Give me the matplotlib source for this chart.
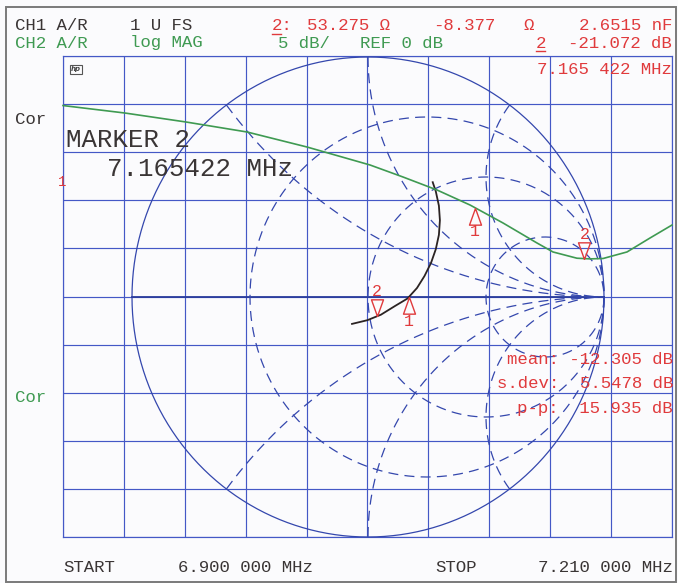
import numpy as np
import matplotlib
matplotlib.use("Agg")
import matplotlib.pyplot as plt
from matplotlib.patches import Rectangle
from matplotlib.lines import Line2D

# ---- sweep / display settings -------------------------------------------
START_MHZ = 6.900
STOP_MHZ = 7.210
REF_DB = 0.0
SCALE_DB = 5.0
N_DIV = 10
Z0 = 50.0

# ---- CH2: log magnitude trace -------------------------------------------
freq_mhz = [6.9000, 6.9316, 6.9626, 6.9937, 7.0242, 7.0563, 7.0731, 7.0904,
            7.1072, 7.1240, 7.1413, 7.1494, 7.1616, 7.1683, 7.1749, 7.1871,
            7.1988, 7.2100]
mag_db = [-5.15, -5.93, -6.86, -7.90, -9.46, -11.33, -12.58, -13.93,
          -15.49, -17.36, -19.44, -20.37, -21.02, -21.09, -21.05, -20.37,
          -18.92, -17.57]

# ---- CH1: reflection coefficient trace (Smith chart) ---------------------
gamma_re = [-0.0678, -0.0030, 0.0547, 0.1144, 0.1674, 0.2076, 0.2394,
            0.2669, 0.2873, 0.3004, 0.3047, 0.3004, 0.2873, 0.2742]
gamma_im = [-0.1121, -0.0967, -0.0738, -0.0375, -0.0063, 0.0375, 0.0875,
            0.1417, 0.1992, 0.2588, 0.3196, 0.3804, 0.4400, 0.4783]

# ---- markers -------------------------------------------------------------
marker_names = ["1", "2"]
marker_freq_mhz = [7.1097, 7.165422]
marker_r_ohm = [71.1, 53.275]
marker_x_ohm = [0.0, -8.377]
marker2_mag_db = -21.072

# ---- Smith chart graticule ----------------------------------------------
smith_r = [1 / 3, 1.0, 3.0]
smith_x = [0.5, 1.0, 2.0, -0.5, -1.0, -2.0]

# ---- colours --------------------------------------------------------------
GRID = "#4458c6"
SMITH = "#3447ad"
SMITH_DARK = "#2a3c9c"
GREEN = "#3f9a52"
RED = "#e03a3c"
DARK = "#3a3535"
FONT = ["Liberation Mono", "DejaVu Sans Mono", "DejaVu Sans"]

W, H = 678, 583
fig = plt.figure(figsize=(W / 100, H / 100), dpi=100)
fig.patch.set_facecolor("#fbfbfd")


def fx(px):
    return px / W


def fy(py):
    return 1 - py / H


# outer frame of the printout
fig.add_artist(Rectangle((fx(6), fy(582)), fx(676) - fx(6), fy(7) - fy(582),
                         transform=fig.transFigure, fill=False,
                         edgecolor="#7a7a7a", lw=1.4, zorder=0))

# ---- rectangular graticule -----------------------------------------------
GL, GR, GT, GB = 63, 672, 56, 537
rect = [fx(GL), fy(GB), (GR - GL) / W, (GB - GT) / H]
ax = fig.add_axes(rect, zorder=1)
ax.set_xlim(START_MHZ, STOP_MHZ)
ax.set_ylim(REF_DB - N_DIV * SCALE_DB, REF_DB)
ax.set_xticks(np.linspace(START_MHZ, STOP_MHZ, N_DIV + 1))
ax.set_yticks(np.linspace(REF_DB - N_DIV * SCALE_DB, REF_DB, N_DIV + 1))
ax.grid(True, color=GRID, lw=0.85)
ax.tick_params(length=0, labelbottom=False, labelleft=False)
for s in ax.spines.values():
    s.set_color(GRID)
    s.set_linewidth(0.85)
ax.set_facecolor("none")

# ---- Smith chart ---------------------------------------------------------
CX, CY, RX, RY = 368, 297, 236, 240
sx = fig.add_axes([fx(CX - RX), fy(CY + RY), 2 * RX / W, 2 * RY / H], zorder=2)
sx.set_xlim(-1, 1)
sx.set_ylim(-1, 1)
sx.axis("off")

dash = (0, (8, 5))
th = np.linspace(0, 2 * np.pi, 721)
sx.plot(np.cos(th), np.sin(th), color=SMITH, lw=0.9, clip_on=False)
sx.plot([-1, 1], [0, 0], color=SMITH_DARK, lw=1.3, clip_on=False)

for r in smith_r:
    xs = np.tan(np.linspace(-np.pi / 2 + 1e-3, np.pi / 2 - 1e-3, 900))
    g = (r + 1j * xs - 1) / (r + 1j * xs + 1)
    sx.plot(g.real, g.imag, color=SMITH, lw=0.9, ls=dash, clip_on=False)

for x in smith_x:
    s = np.linspace(0, 0.999, 700)
    rs = s / (1 - s)
    g = (rs + 1j * x - 1) / (rs + 1j * x + 1)
    sx.plot(g.real, g.imag, color=SMITH, lw=0.9, ls=dash, clip_on=False)

sx.plot(gamma_re, gamma_im, color="#2b2323", lw=1.3, clip_on=False,
        solid_joinstyle="round")

# marker symbols: hanging triangle (inactive) and standing triangle (active)
TRI_UP = [(0, 0), (-0.36, -1), (0.36, -1), (0, 0)]
TRI_DN = [(0, 0), (-0.36, 1), (0.36, 1), (0, 0)]


def draw_marker(axis, x, y, name, active):
    axis.plot([x], [y], marker=TRI_DN if active else TRI_UP, ms=24,
              mfc="none", mec=RED, mew=1.0, ls="none", clip_on=False,
              zorder=6)
    axis.annotate(name, (x, y), xytext=(0, 24 if active else -24),
                  textcoords="offset pixels", ha="center", va="center",
                  color=RED, fontsize=12, family=FONT, zorder=6)


z_mk = (np.array(marker_r_ohm) + 1j * np.array(marker_x_ohm)) / Z0
g_mk = (z_mk - 1) / (z_mk + 1)
for i, name in enumerate(marker_names):
    draw_marker(sx, g_mk[i].real, g_mk[i].imag, name, name == "2")

# ---- log magnitude trace on top -----------------------------------------
gx = fig.add_axes(rect, zorder=3)
gx.set_xlim(START_MHZ, STOP_MHZ)
gx.set_ylim(REF_DB - N_DIV * SCALE_DB, REF_DB)
gx.axis("off")
gx.plot(freq_mhz, mag_db, color=GREEN, lw=1.2, clip_on=False)

mk_db = [float(np.interp(marker_freq_mhz[0], freq_mhz, mag_db)), marker2_mag_db]
for i, name in enumerate(marker_names):
    draw_marker(gx, marker_freq_mhz[i], mk_db[i], name, name == "2")

# ---- annotation text -----------------------------------------------------


def label(px, py, s, color=DARK, size=12.5, ha="left"):
    fig.text(fx(px), fy(py), s, color=color, fontsize=size, ha=ha,
             va="center", family=FONT, zorder=8)


def underline(px0, px1, py, color):
    fig.add_artist(Line2D([fx(px0), fx(px1)], [fy(py), fy(py)],
                          transform=fig.transFigure, color=color, lw=1.0,
                          zorder=8))


label(15, 26, "CH1 A/R", DARK)
label(130, 26, "1 U FS", DARK)
label(272, 26, "2:", RED)
underline(272, 281, 34, RED)
label(307, 26, "53.275 Ω", RED)
label(433, 26, "-8.377", RED)
label(523, 26, "Ω", RED)
label(672, 26, "2.6515 nF", RED, ha="right")

label(15, 43, "CH2 A/R", GREEN)
label(130, 43, "log MAG", GREEN)
label(278, 43, "5 dB/", GREEN)
label(360, 43, "REF 0 dB", GREEN)
label(536, 43, "2", RED)
underline(536, 545, 51, RED)
label(672, 43, "-21.072 dB", RED, ha="right")

label(672, 70, "7.165 422 MHz", RED, ha="right")

fig.text(fx(76), fy(69.5), "hp", fontsize=5, ha="center", va="center",
         style="italic", weight="bold", color="#444444", zorder=8,
         bbox=dict(boxstyle="square,pad=0.15", fc="none", ec="#555555", lw=0.8))

label(15, 119, "Cor", DARK)
label(58, 182, "1", RED, size=10)
label(15, 397, "Cor", GREEN)

label(66, 140, "MARKER 2", DARK, size=18.5)
label(107, 169, "7.165422 MHz", DARK, size=18.5)

label(673, 360, "mean: -12.305 dB", RED, ha="right")
label(673, 383, "s.dev:  5.5478 dB", RED, ha="right")
label(673, 408, "p-p:  15.935 dB", RED, ha="right")

label(63, 568, "START", DARK)
label(313, 568, "6.900 000 MHz", DARK, ha="right")
label(435, 568, "STOP", DARK)
label(673, 568, "7.210 000 MHz", DARK, ha="right")

fig.savefig("out.png", dpi=100, facecolor=fig.get_facecolor())
